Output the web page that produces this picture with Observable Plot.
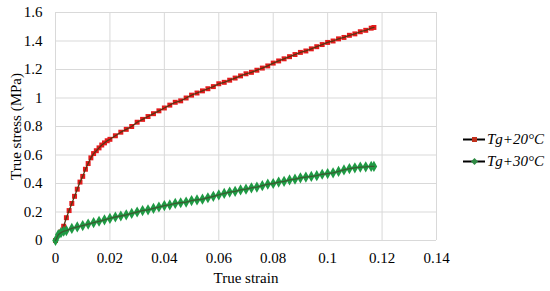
<!DOCTYPE html>
<html>
<head>
<meta charset="utf-8">
<script src="https://cdn.jsdelivr.net/npm/d3@7"></script>
<script src="https://cdn.jsdelivr.net/npm/@observablehq/plot@0.6"></script>
<style>
  html, body { margin: 0; padding: 0; background: #fff; }
  #wrap { position: relative; width: 550px; height: 291px; font-family: "Liberation Serif", "DejaVu Serif", "Noto Serif", serif; }
  #wrap svg { font-family: "Liberation Serif", "DejaVu Serif", "Noto Serif", serif !important; font-size: 15px !important; }
  #legend { position: absolute; left: 463px; top: 128px; font-size: 15px; font-style: italic; color: #000; }
  #legend .row { display: flex; align-items: center; height: 22px; }
  #legend svg { margin-right: 2px; }
</style>
</head>
<body>
<div id="wrap"></div>
<script>
// Series names
const seriesNames = ["Tg+20°C", "Tg+30°C"];

// Tg+20°C
const strain20 = [0, 0.002, 0.003, 0.004, 0.005, 0.006, 0.007, 0.008, 0.009, 0.010, 0.011, 0.012, 0.013, 0.014, 0.015, 0.016, 0.017, 0.018, 0.019, 0.020,
  0.022, 0.024, 0.026, 0.028, 0.030, 0.032, 0.034, 0.036, 0.038, 0.040, 0.042, 0.044, 0.046, 0.048, 0.050, 0.052, 0.054, 0.056, 0.058, 0.060,
  0.062, 0.064, 0.066, 0.068, 0.070, 0.072, 0.074, 0.076, 0.078, 0.080, 0.082, 0.084, 0.086, 0.088, 0.090, 0.092, 0.094, 0.096, 0.098, 0.100,
  0.102, 0.104, 0.106, 0.108, 0.110, 0.112, 0.114, 0.116, 0.117];
const stress20 = [0, 0.06, 0.10, 0.16, 0.21, 0.26, 0.31, 0.36, 0.41, 0.45, 0.50, 0.54, 0.58, 0.61, 0.63, 0.65, 0.67, 0.685, 0.70, 0.71,
  0.735, 0.76, 0.78, 0.80, 0.83, 0.85, 0.87, 0.89, 0.91, 0.93, 0.95, 0.97, 0.98, 1.00, 1.02, 1.035, 1.05, 1.065, 1.08, 1.10,
  1.11, 1.125, 1.14, 1.155, 1.17, 1.18, 1.195, 1.21, 1.225, 1.245, 1.26, 1.275, 1.29, 1.305, 1.32, 1.33, 1.345, 1.36, 1.375, 1.39,
  1.40, 1.415, 1.425, 1.44, 1.45, 1.465, 1.475, 1.49, 1.495];

// Tg+30°C
const strain30 = [0, 0.001, 0.002, 0.003, 0.004, 0.006, 0.008, 0.010, 0.012, 0.014, 0.016, 0.018, 0.020,
  0.022, 0.024, 0.026, 0.028, 0.030, 0.032, 0.034, 0.036, 0.038, 0.040, 0.042, 0.044, 0.046, 0.048, 0.050, 0.052, 0.054, 0.056, 0.058, 0.060,
  0.062, 0.064, 0.066, 0.068, 0.070, 0.072, 0.074, 0.076, 0.078, 0.080, 0.082, 0.084, 0.086, 0.088, 0.090, 0.092, 0.094, 0.096, 0.098, 0.100,
  0.102, 0.104, 0.106, 0.108, 0.110, 0.112, 0.114, 0.116, 0.117];
const stress30 = [0, 0.04, 0.055, 0.065, 0.07, 0.085, 0.095, 0.105, 0.115, 0.125, 0.135, 0.145, 0.155,
  0.165, 0.172, 0.18, 0.19, 0.20, 0.21, 0.215, 0.225, 0.235, 0.245, 0.25, 0.26, 0.265, 0.27, 0.28, 0.285, 0.29, 0.30, 0.31, 0.32,
  0.33, 0.34, 0.345, 0.355, 0.36, 0.37, 0.375, 0.385, 0.395, 0.40, 0.41, 0.415, 0.425, 0.43, 0.44, 0.445, 0.45, 0.455, 0.465, 0.47,
  0.475, 0.485, 0.495, 0.505, 0.51, 0.515, 0.517, 0.52, 0.52];

// Axis ticks
const xTicks = [0, 0.02, 0.04, 0.06, 0.08, 0.10, 0.12, 0.14];
const yTicks = [0, 0.2, 0.4, 0.6, 0.8, 1.0, 1.2, 1.4, 1.6];

const d20 = strain20.map((x, i) => ({x, y: stress20[i]}));
const d30 = strain30.map((x, i) => ({x, y: stress30[i]}));

const fmt = d => String(+d.toFixed(2));

const plot = Plot.plot({
  width: 550,
  height: 291,
  marginLeft: 55,
  marginRight: 114,
  marginTop: 12,
  marginBottom: 51,
  style: "font-family: 'Liberation Serif', 'DejaVu Serif', serif; font-size: 15px; color: #000; background: #fff;",
  x: { domain: [0, 0.14] },
  y: { domain: [0, 1.6] },
  marks: [
    Plot.gridX(xTicks, { stroke: "#d9d9d9", strokeOpacity: 1, strokeWidth: 1 }),
    Plot.gridY(yTicks, { stroke: "#d9d9d9", strokeOpacity: 1, strokeWidth: 1 }),
    Plot.axisX(xTicks, { tickSize: 0, tickPadding: 12, tickFormat: fmt, label: "True strain", labelAnchor: "center", labelOffset: 42, labelArrow: "none" }),
    Plot.axisY(yTicks, { tickSize: 0, tickPadding: 13, tickFormat: fmt, label: "True stress (MPa)", labelAnchor: "center", labelOffset: 45, labelArrow: "none" }),
    Plot.dot(d20, { x: "x", y: "y", symbol: "square", r: 2.8, fill: "#e41a1c", stroke: "none" }),
    Plot.line(d20, { x: "x", y: "y", stroke: "#5a3512", strokeWidth: 1.3 }),
    Plot.dot(d30, { x: "x", y: "y", symbol: "diamond", r: 3.4, fill: "#1f9a44", stroke: "none" }),
    Plot.line(d30, { x: "x", y: "y", stroke: "#3a5a30", strokeWidth: 1.3 })
  ]
});

const wrap = document.getElementById("wrap");
wrap.appendChild(plot);

const legend = document.createElement("div");
legend.id = "legend";
const swatchColors = ["#c0301c", "#2f8a44"];
seriesNames.forEach((name, i) => {
  const row = document.createElement("div");
  row.className = "row";
  const marker = i === 0
    ? `<rect x="9" y="4" width="5" height="5" fill="${swatchColors[i]}"/>`
    : `<path d="M11.5,3 L15,6.5 L11.5,10 L8,6.5 Z" fill="${swatchColors[i]}"/>`;
  row.innerHTML = `<svg width="22" height="13"><line x1="0" x2="22" y1="6.5" y2="6.5" stroke="#000" stroke-width="2"/>${marker}</svg><span>${name}</span>`;
  legend.appendChild(row);
});
wrap.appendChild(legend);
</script>
</body>
</html>
